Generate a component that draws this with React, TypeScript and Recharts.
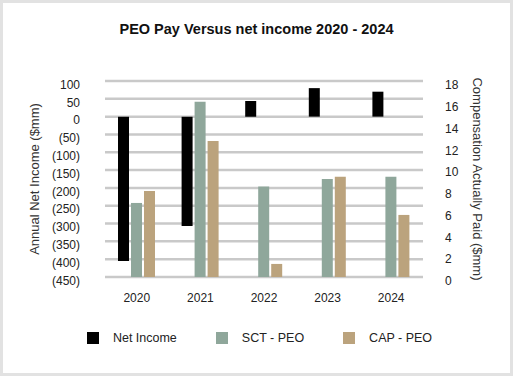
import React from 'react';
import { BarChart, Bar, XAxis, YAxis, CartesianGrid, Legend } from 'recharts';

const years = ['2020', '2021', '2022', '2023', '2024'];
const netIncome = [-405, -307, 44, 80, 70];
const sctPeo = [6.8, 16.1, 8.3, 9.0, 9.2];
const capPeo = [7.9, 12.5, 1.2, 9.2, 5.7];
const leftTicks = [100, 50, 0, -50, -100, -150, -200, -250, -300, -350, -400, -450];
const rightTicks = [0, 2, 4, 6, 8, 10, 12, 14, 16, 18];

const data = years.map((y, i) => ({
  year: y,
  netIncome: netIncome[i],
  sct: sctPeo[i],
  cap: capPeo[i],
}));

const FONT = 'Arial, "Liberation Sans", Helvetica, sans-serif';
const COLORS = { net: '#000000', sct: '#8fa79b', cap: '#bba37d' };

const fmtLeft = (v: number) => (v < 0 ? `(${-v})` : `${v}`);

const LeftLabel = (props: any) => {
  const vb = props.viewBox || { x: 0, y: 81, width: 105, height: 196 };
  const cx = vb.x + 34;
  const cy = vb.y + vb.height / 2;
  return (
    <text x={cx} y={cy} transform={`rotate(-90 ${cx} ${cy})`} textAnchor="middle" dominantBaseline="central"
      style={{ fontFamily: FONT, fontSize: 13, fill: '#333' }}>
      Annual Net Income ($mm)
    </text>
  );
};

const RightLabel = (props: any) => {
  const vb = props.viewBox || { x: 423, y: 81, width: 90, height: 196 };
  const cx = vb.x + 54;
  const cy = vb.y + vb.height / 2;
  return (
    <text x={cx} y={cy} transform={`rotate(90 ${cx} ${cy})`} textAnchor="middle" dominantBaseline="central"
      style={{ fontFamily: FONT, fontSize: 13, fill: '#333' }}>
      Compensation Actually Paid ($mm)
    </text>
  );
};

const legendItems = [
  { label: 'Net Income', color: COLORS.net },
  { label: 'SCT - PEO', color: COLORS.sct },
  { label: 'CAP - PEO', color: COLORS.cap },
];

const LegendContent = () => (
  <div style={{ height: 62, display: 'flex', alignItems: 'center', justifyContent: 'center', paddingLeft: 6, boxSizing: 'border-box' }}>
    {legendItems.map((it, i) => (
      <div key={it.label} style={{ display: 'flex', alignItems: 'center', marginLeft: i === 0 ? 0 : 39 }}>
        <div style={{ width: 12, height: 12, background: it.color }} />
        <span style={{ marginLeft: 14, fontFamily: FONT, fontSize: 12.5, color: '#222' }}>{it.label}</span>
      </div>
    ))}
  </div>
);

export default function App() {
  return (
    <div style={{ position: 'fixed', left: 0, top: 0, width: 513, height: 376, background: '#fff' }}>
      <div style={{ position: 'absolute', left: 0, top: 0, width: 513, height: 376, boxSizing: 'border-box', border: '3px solid #e2e2e2' }} />
      <div style={{ position: 'absolute', left: 0, top: 22, width: 513, textAlign: 'center', fontFamily: FONT, fontWeight: 'bold', fontSize: 14.5, lineHeight: '14px', color: '#111' }}>
        PEO Pay Versus net income 2020 - 2024
      </div>
      <div style={{ position: 'absolute', left: 0, top: 0 }}>
        <BarChart width={513} height={376} data={data} margin={{ top: 81, right: 0, left: 0, bottom: 7 }} barSize={11} barGap={2}>
          <CartesianGrid vertical={false} horizontal={true} stroke="#c9c9c9" strokeWidth={2.5} strokeOpacity={1} />
          <XAxis dataKey="year" axisLine={false} tickLine={false} tickSize={0} tickMargin={16} height={30}
            tick={{ fontFamily: FONT, fontSize: 12, fill: '#222' }} interval={0} />
          <YAxis orientation="left" width={105} domain={[-450, 100]} ticks={leftTicks} interval={0}
            axisLine={false} tickLine={false} tickSize={0} tickMargin={25} tickFormatter={fmtLeft}
            tick={{ fontFamily: FONT, fontSize: 12, fill: '#222', dy: 3.5 }} label={{ content: LeftLabel }} />
          <YAxis yAxisId="right" orientation="right" width={90} domain={[0, 18]} ticks={rightTicks} interval={0}
            axisLine={false} tickLine={false} tickSize={0} tickMargin={22}
            tick={{ fontFamily: FONT, fontSize: 12, fill: '#222', dy: 4 }} label={{ content: RightLabel }} />
          <Legend verticalAlign="bottom" height={62} content={<LegendContent />} />
          <Bar dataKey="netIncome" name="Net Income" fill={COLORS.net} isAnimationActive={false} />
          <Bar yAxisId="right" dataKey="sct" name="SCT - PEO" fill={COLORS.sct} isAnimationActive={false} />
          <Bar yAxisId="right" dataKey="cap" name="CAP - PEO" fill={COLORS.cap} isAnimationActive={false} />
        </BarChart>
      </div>
    </div>
  );
}
